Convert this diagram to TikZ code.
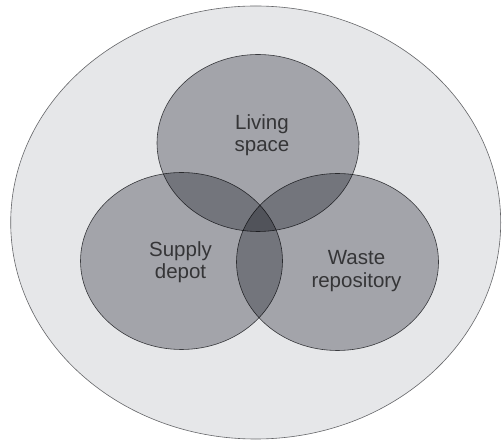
\documentclass[tikz,border=0pt]{standalone}
\usepackage{fontspec}
\setmainfont{Liberation Sans}
\usetikzlibrary{positioning, shapes.geometric}
\definecolor{habitatfill}{HTML}{E6E7E9}
\definecolor{zonefill}{HTML}{B5B6BB}
\definecolor{zoneline}{HTML}{4A4B4E}
\definecolor{labeltext}{HTML}{353537}
\tikzset{
	every text node part/.style= {
		align=center
	},
	habitat/.style= {
		ellipse,
		draw=zoneline!85,
		fill=habitatfill,
		line width=0.6pt,
		inner sep=0,
		minimum width=490pt,
		minimum height=433pt
	},
	zone/.style= {
		ellipse,
		draw=zoneline,
		fill=zonefill,
		line width=0.6pt,
		inner sep=0,
		minimum width=202pt,
		minimum height=177pt
	},
	word/.style= {
		labeltext,
		font=\fontsize{20.5}{22.5}\selectfont
	},
}

\begin{document}
\begin{tikzpicture}
		\useasboundingbox[fill=white] (0,0) rectangle (502pt,441pt);

		\node (habitat) [habitat] at (255.7pt,218.5pt) {};

		\begin{scope}[blend mode=multiply]
			\node (living) [zone] at (258pt,298pt) {};
			\node (supply) [zone] at (181.5pt,180pt) {};
			\node (waste) [zone] at (337.5pt,179pt) {};
		\end{scope}

		\node (livingtext) [word] at ([xshift=4pt, yshift=8pt]living.center) {Living\\space};
		\node (supplytext) [word] at ([xshift=-1pt, yshift=-1pt]supply.center) {Supply\\depot};
		\node (wastetext) [word] at ([xshift=19pt, yshift=-9pt]waste.center) {Waste\\repository};
	\end{tikzpicture}
\end{document}
